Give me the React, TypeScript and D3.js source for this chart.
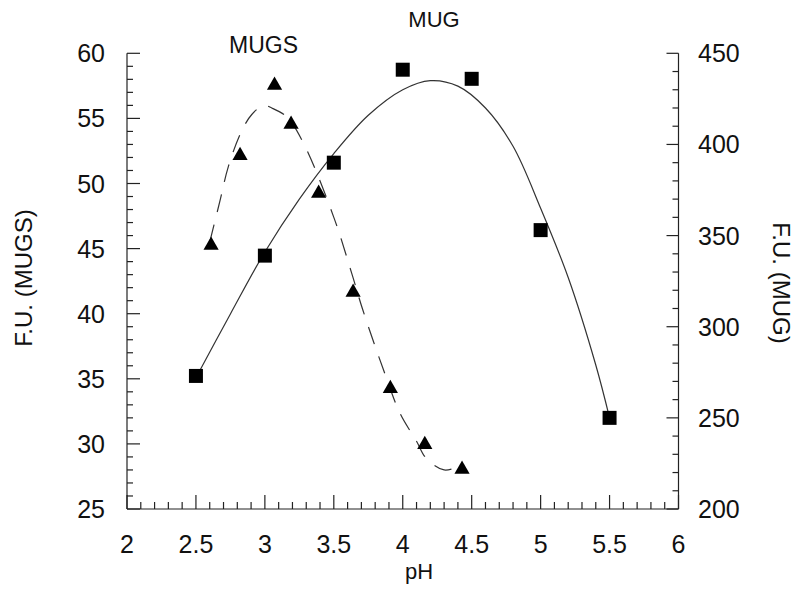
import * as d3 from 'd3';

// measured points (triangles, left axis)
const mugsPH = [2.61, 2.82, 3.07, 3.19, 3.39, 3.64, 3.91, 4.16, 4.43];
const mugsFU = [45.4, 52.3, 57.7, 54.7, 49.4, 41.8, 34.4, 30.1, 28.2];

// measured points (squares, right axis)
const mugPH = [2.5, 3, 3.5, 4, 4.5, 5, 5.5];
const mugFU = [273, 339, 390, 441, 436, 353, 250];

// fitted curves
const mugsFitPH = [2.6, 2.675, 2.735, 2.83, 2.905, 2.99, 3.05, 3.16, 3.28, 3.5, 3.63, 3.71, 3.87, 3.98, 4.1, 4.17, 4.3, 4.42];
const mugsFitFU = [45.5, 48.7, 51.3, 54.0, 55.3, 56.0, 55.8, 55.1, 53.1, 47.4, 43.1, 40.3, 35.4, 32.35, 30.2, 28.9, 28.0, 28.3];
const mugFitPH = [2.5, 2.75, 3.0, 3.25, 3.5, 3.75, 4.0, 4.2, 4.4, 4.6, 4.8, 5.0, 5.2, 5.4, 5.5];
const mugFitFU = [272, 307, 341, 370, 395, 416, 430, 435, 432, 420, 399, 365, 327, 279, 250];

const phLabels = ['2', '2.5', '3', '3.5', '4', '4.5', '5', '5.5', '6'];
const leftLabels = ['25', '30', '35', '40', '45', '50', '55', '60'];
const rightLabels = ['200', '250', '300', '350', '400', '450'];

const W = 800;
const H = 596;
const font = '"Liberation Sans", Arial, Helvetica, sans-serif';
const ink = '#222';

const x = d3.scaleLinear().domain([2, 6]).range([127, 678.5]);
const yL = d3.scaleLinear().domain([25, 60]).range([509, 53.3]);
const yR = d3.scaleLinear().domain([200, 450]).range([509, 53.3]);

const App = () => {
    const left = x.range()[0];
    const right = x.range()[1];
    const bottom = yL.range()[0];
    const top = yL.range()[1];

    const phMinor = d3.range(20, 61).map(v => v / 10);
    const lMinor = d3.range(25, 61);
    const rMinor = d3.range(200, 451, 10);

    const lineL = d3
        .line<number>()
        .x((_, i) => x(mugsFitPH[i]))
        .y(d => yL(d))
        .curve(d3.curveCatmullRom.alpha(0.5));
    const lineR = d3
        .line<number>()
        .x((_, i) => x(mugFitPH[i]))
        .y(d => yR(d))
        .curve(d3.curveCatmullRom.alpha(0.5));

    const tri = d3.symbol().type(d3.symbolTriangle).size(100)() ?? '';
    const sq = d3.symbol().type(d3.symbolSquare).size(196)() ?? '';

    return (
        <svg
            width={W}
            height={H}
            style={{ position: 'absolute', left: 0, top: 0, background: '#fff' }}
            fontFamily={font}
        >
            {/* axes */}
            <g stroke={ink} strokeWidth={1.2} fill="none">
                <line x1={left} x2={left} y1={top} y2={bottom} />
                <line x1={right} x2={right} y1={top} y2={bottom} />
                <line x1={left} x2={right} y1={bottom} y2={bottom} />
                {phMinor.map((v, i) => (
                    <line key={'px' + i} x1={x(v)} x2={x(v)} y1={bottom} y2={bottom - (i % 5 === 0 ? 14 : 7)} />
                ))}
                {lMinor.map((v, i) => (
                    <line key={'ly' + i} x1={left} x2={left + (v % 5 === 0 ? 13 : 6)} y1={yL(v)} y2={yL(v)} />
                ))}
                {rMinor.map((v, i) => (
                    <line key={'ry' + i} x1={right} x2={right - (v % 50 === 0 ? 12 : 6)} y1={yR(v)} y2={yR(v)} />
                ))}
            </g>

            {/* tick labels */}
            <g fontSize={25} fill="#111">
                {phLabels.map(l => (
                    <text key={'xl' + l} x={x(+l)} y={553} textAnchor="middle">
                        {l}
                    </text>
                ))}
                {leftLabels.map(l => (
                    <text key={'yl' + l} x={105} y={yL(+l)} dy="0.36em" textAnchor="end">
                        {l}
                    </text>
                ))}
                {rightLabels.map(l => (
                    <text key={'yr' + l} x={698} y={yR(+l)} dy="0.36em" textAnchor="start">
                        {l}
                    </text>
                ))}
            </g>

            {/* axis titles */}
            <g fontSize={22} fill="#111">
                <text x={419} y={579} textAnchor="middle">
                    pH
                </text>
                <text transform={`translate(31.5,278) rotate(-90)`} textAnchor="middle" fontSize={24}>
                    F.U. (MUGS)
                </text>
                <text transform={`translate(773,283) rotate(90)`} textAnchor="middle" fontSize={24}>
                    F.U. (MUG)
                </text>
                <text x={263.5} y={53} textAnchor="middle" fontSize={23}>
                    MUGS
                </text>
                <text x={434} y={26.5} textAnchor="middle">
                    MUG
                </text>
            </g>

            {/* fitted curves */}
            <path d={lineL(mugsFitFU) ?? ''} fill="none" stroke="#333" strokeWidth={1.2} strokeDasharray="18 13" />
            <path d={lineR(mugFitFU) ?? ''} fill="none" stroke="#333" strokeWidth={1.2} />

            {/* markers */}
            {mugsFU.map((v, i) => (
                <path key={'t' + i} d={tri} transform={`translate(${x(mugsPH[i])},${yL(v) + 2})`} fill="#000" />
            ))}
            {mugFU.map((v, i) => (
                <path key={'s' + i} d={sq} transform={`translate(${x(mugPH[i])},${yR(v)})`} fill="#000" />
            ))}
        </svg>
    );
};

export default App;
